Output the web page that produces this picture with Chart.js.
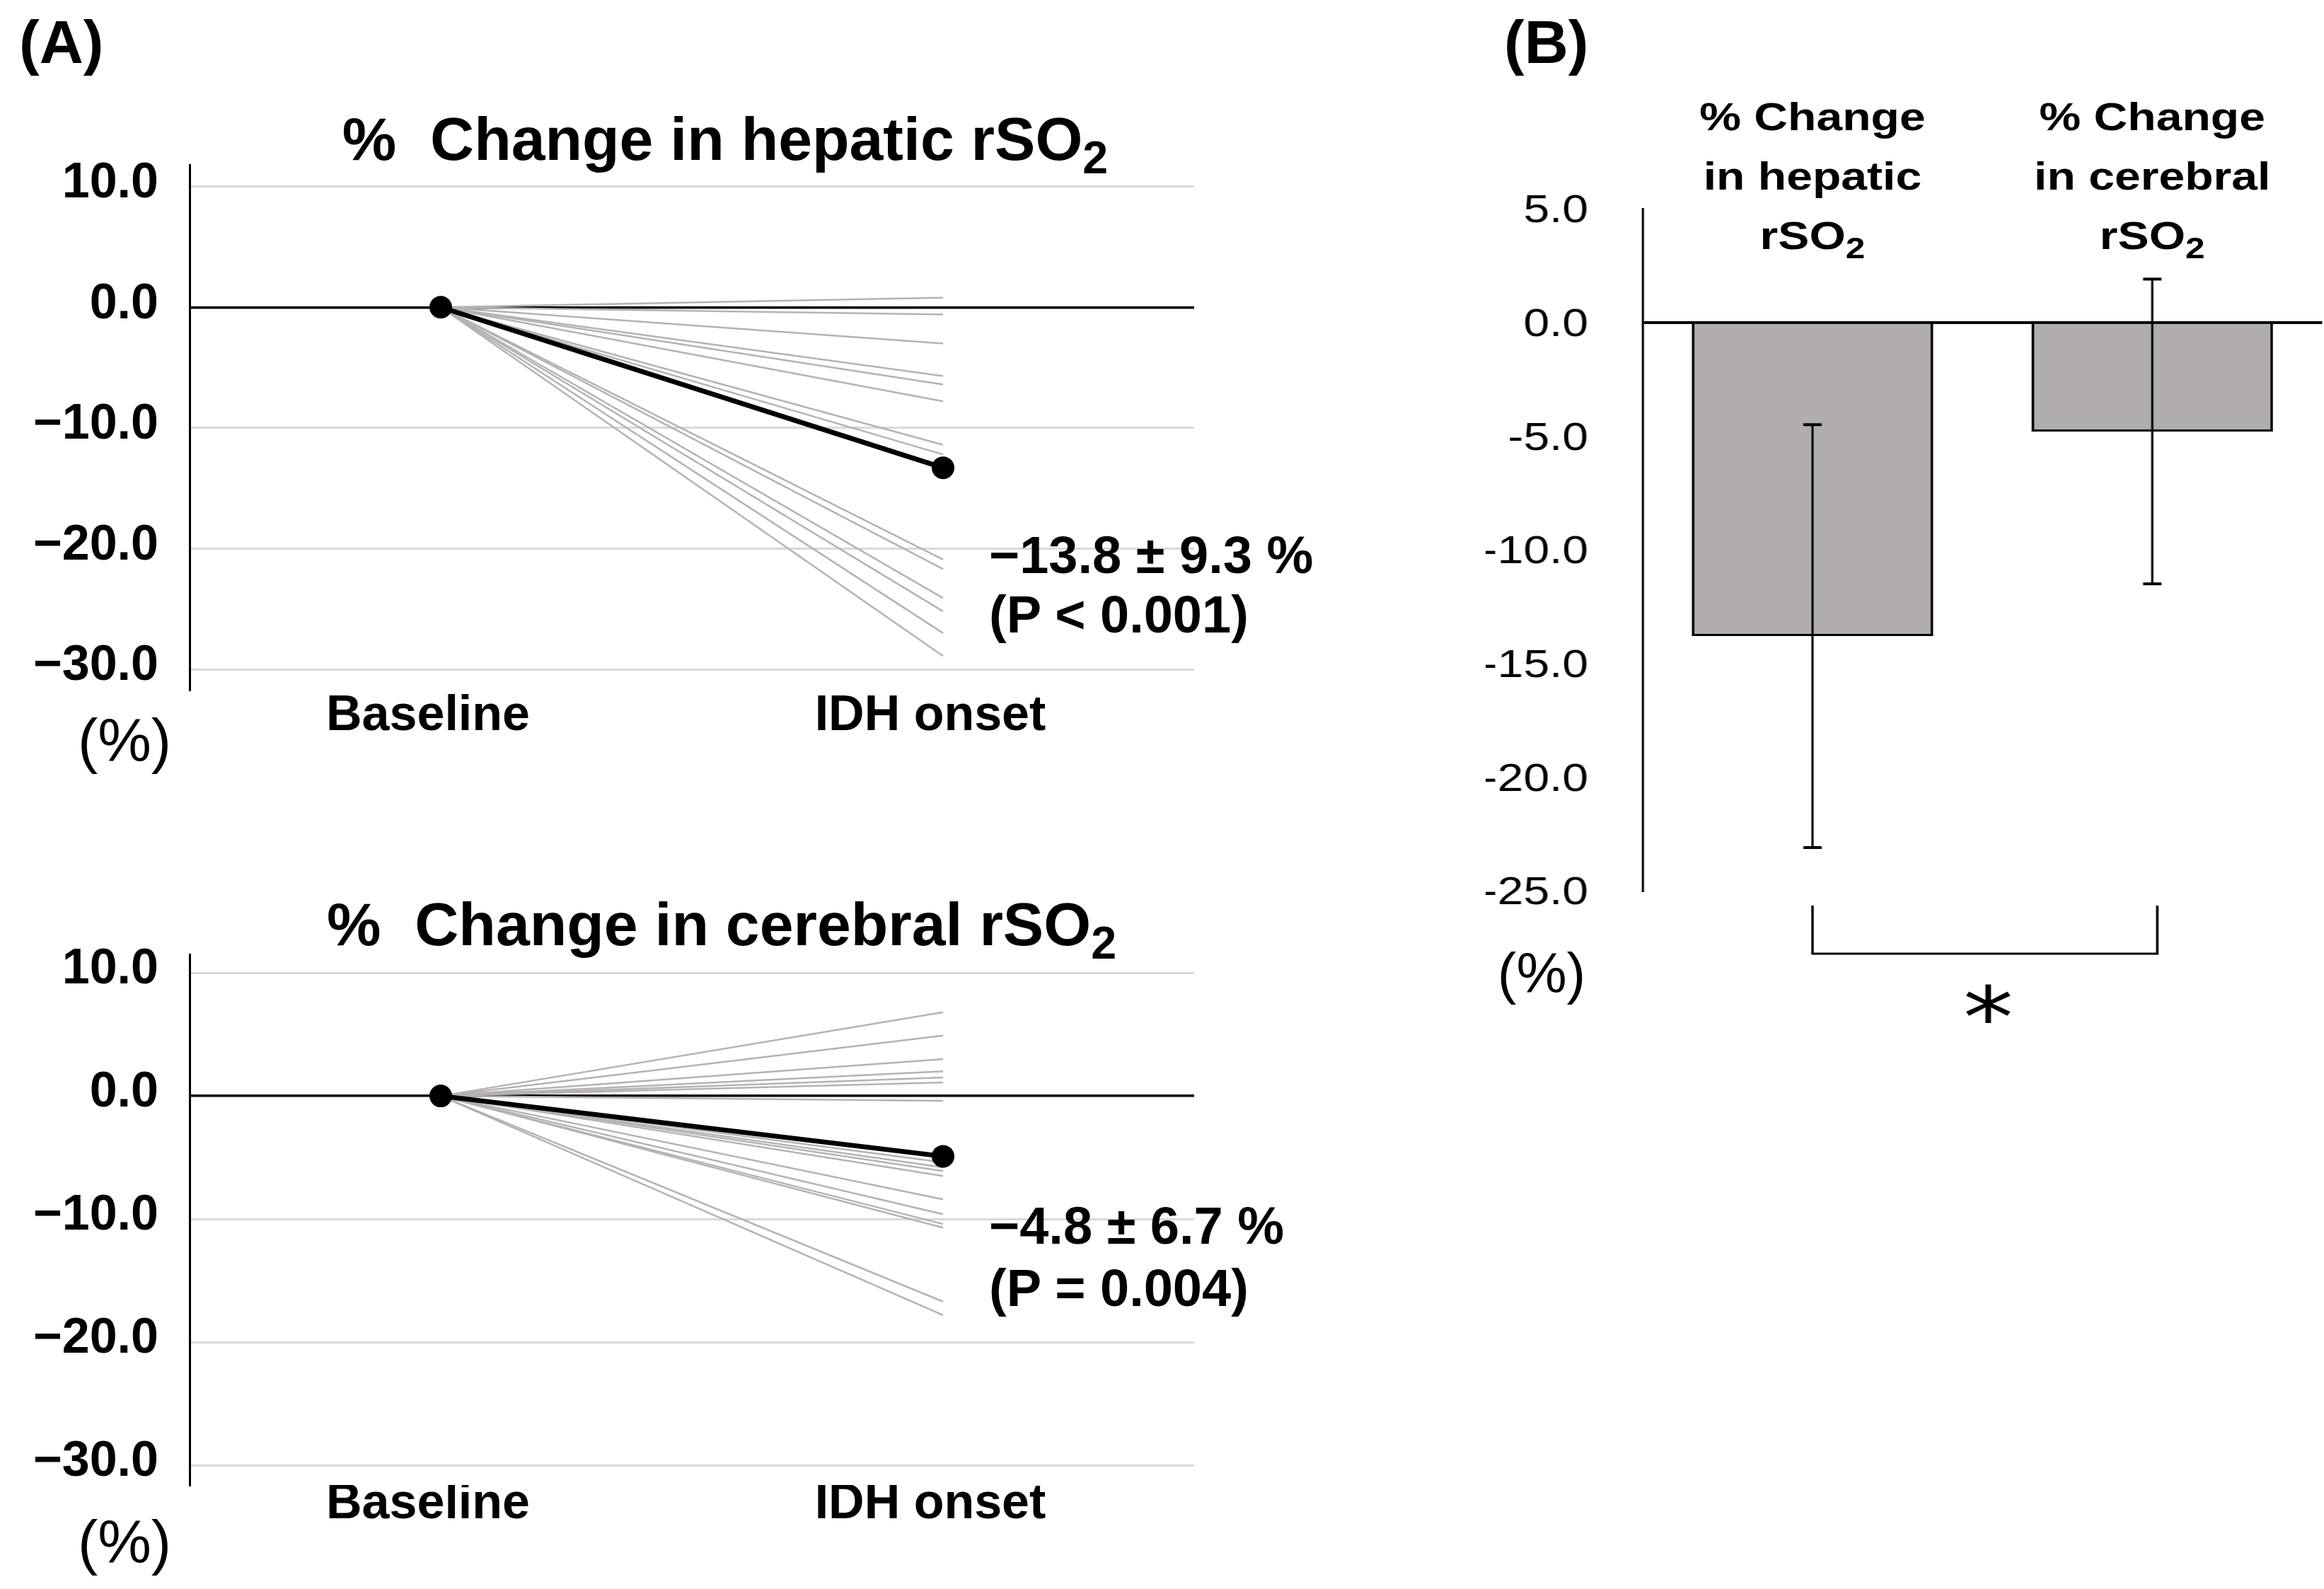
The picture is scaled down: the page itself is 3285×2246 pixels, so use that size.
<!DOCTYPE html>
<html>
<head>
<meta charset="utf-8">
<script src="https://cdn.jsdelivr.net/npm/chart.js@4.4.0/dist/chart.umd.min.js"></script>
<style>
html, body { margin: 0; padding: 0; background: #fff; }
body { width: 3285px; height: 2246px; position: relative; overflow: hidden;
       font-family: "Liberation Sans", Arial, sans-serif; color: #000; }
.txt { position: absolute; white-space: pre; line-height: 1; }
.b { font-weight: bold; }
.sub { font-size: 0.75em; vertical-align: -0.3em; line-height: 0; }
.hdr { position: absolute; width: 500px; text-align: center; font-weight: bold;
       font-size: 56px; line-height: 84px; white-space: nowrap; }
</style>
</head>
<body>

<div class="txt b" style="left:27px;top:16px;font-size:86px">(A)</div>
<div class="txt b" style="left:2126px;top:16px;font-size:86px">(B)</div>

<div class="txt b" style="left:325px;top:153px;width:1400px;text-align:center;font-size:86px">%  Change in hepatic rSO<span class="sub">2</span></div>
<div class="txt b" style="left:320px;top:1263px;width:1400px;text-align:center;font-size:86px">%  Change in cerebral rSO<span class="sub">2</span></div>

<div style="position:absolute;left:0;top:0"><canvas id="hep" width="1720" height="1150"></canvas></div>
<div style="position:absolute;left:0;top:1150px"><canvas id="cer" width="1720" height="1096"></canvas></div>

<div class="txt b" style="left:1398px;top:748px;font-size:74px">−13.8 ± 9.3 %</div>
<div class="txt b" style="left:1398px;top:832px;font-size:74px">(P &lt; 0.001)</div>
<div class="txt b" style="left:1398px;top:1696px;font-size:74px">−4.8 ± 6.7 %</div>
<div class="txt b" style="left:1398px;top:1784px;font-size:74px">(P = 0.004)</div>

<div class="txt" style="left:76px;top:1004px;width:200px;text-align:center;font-size:85px">(%)</div>
<div class="txt" style="left:76px;top:2137px;width:200px;text-align:center;font-size:85px">(%)</div>
<div class="txt" style="left:2079px;top:1336px;width:200px;text-align:center;font-size:80px">(%)</div>

<div id="panelB" style="position:absolute;left:2100px;top:0;width:1004px;height:1500px;transform:scaleX(1.18);transform-origin:0 0">
  <canvas id="bar" width="1004" height="1500"></canvas>
  <div class="hdr" id="hdr0" style="top:123px">% Change<br>in hepatic<br>rSO<span class="sub">2</span></div>
  <div class="hdr" id="hdr1" style="top:123px">% Change<br>in cerebral<br>rSO<span class="sub">2</span></div>
</div>

<script>
// time points on the x axis of panel A
const timePoints = ['Baseline', 'IDH onset'];
const yTicksA = [10, 0, -10, -20, -30];

// % change at IDH onset, one value per patient (baseline is 0)
const hepaticEnd = [0.8, -0.6, -3.0, -5.7, -6.4, -7.8, -11.4, -12.2, -20.9, -21.7, -24.1, -25.2, -27.0, -28.9];
const hepaticMean = -13.3;
const cerebralEnd = [6.8, 4.9, 3.0, 2.0, 1.5, 1.1, -0.4, -5.4, -5.8, -6.1, -6.5, -8.4, -9.6, -10.4, -10.7, -16.7, -17.8];
const cerebralMean = -4.9;

// panel B
const barCats = ['hepatic', 'cerebral'];
const barMeans = [-13.8, -4.8];
const barSD = [9.3, 6.7];

Chart.defaults.font.family = '"Liberation Sans", Arial, sans-serif';
Chart.defaults.color = '#000';

function fmtA(v) {
    return (v < 0 ? '−' : '') + Math.abs(v).toFixed(1);
}

function lineChart(id, ends, mean, yMin, yMax, padTop, xHeight, xPad) {
    const datasets = [{
        data: [0, mean],
        borderColor: '#000',
        borderWidth: 7,
        pointRadius: 16,
        pointBackgroundColor: '#000',
        pointBorderWidth: 0
    }];
    ends.forEach(v => datasets.push({
        data: [0, v],
        borderColor: '#B6B2B2',
        borderWidth: 2.5,
        pointRadius: 0
    }));

    new Chart(document.getElementById(id), {
        type: 'line',
        data: { labels: timePoints, datasets: datasets },
        options: {
            responsive: false,
            devicePixelRatio: 1,
            animation: false,
            events: [],
            layout: { padding: { top: padTop, right: 32, bottom: 0, left: 0 } },
            scales: {
                x: {
                    offset: true,
                    afterFit: ax => { ax.height = xHeight; },
                    grid: { display: false, drawTicks: false },
                    border: { display: false },
                    ticks: {
                        padding: xPad,
                        labelOffset: -18,
                        maxRotation: 0,
                        autoSkip: false,
                        font: { size: 70, weight: 'bold' }
                    }
                },
                y: {
                    min: yMin,
                    max: yMax,
                    afterBuildTicks: ax => { ax.ticks = yTicksA.map(v => ({ value: v })); },
                    afterFit: ax => { ax.width = 268; },
                    grid: {
                        drawTicks: false,
                        color: c => (c.tick && c.tick.value === 0) ? '#000' : '#D9D9D9',
                        lineWidth: c => (c.tick && c.tick.value === 0) ? 3.5 : 3
                    },
                    border: { display: true, color: '#000', width: 3 },
                    ticks: {
                        padding: 44,
                        labelOffset: -4,
                        font: { size: 70, weight: 'bold' },
                        callback: v => fmtA(v)
                    }
                }
            },
            plugins: { legend: { display: false }, tooltip: { enabled: false } }
        }
    });
}

lineChart('hep', hepaticEnd, hepaticMean, -31.7, 11.8, 233, 175, -4);
lineChart('cer', cerebralEnd, cerebralMean, -31.6, 11.5, 199, 147, -14);

// error bars, significance bracket and header placement for panel B
const barExtras = {
    id: 'barExtras',
    afterDatasetsDraw(chart) {
        const ctx = chart.ctx;
        const y = chart.scales.y;
        const bars = chart.getDatasetMeta(0).data;
        ctx.save();
        ctx.strokeStyle = '#000';
        bars.forEach((bar, i) => {
            const hi = y.getPixelForValue(barMeans[i] + barSD[i]);
            const lo = y.getPixelForValue(barMeans[i] - barSD[i]);
            ctx.lineWidth = 2.6;
            ctx.beginPath();
            ctx.moveTo(bar.x, hi);
            ctx.lineTo(bar.x, lo);
            ctx.stroke();
            ctx.lineWidth = 4;
            ctx.beginPath();
            ctx.moveTo(bar.x - 11, hi); ctx.lineTo(bar.x + 11, hi);
            ctx.moveTo(bar.x - 11, lo); ctx.lineTo(bar.x + 11, lo);
            ctx.stroke();
        });

        // bracket below the axis
        const x0 = bars[0].x, x1 = bars[1].x + 6;
        ctx.lineWidth = 3;
        ctx.beginPath();
        ctx.moveTo(x0, 1280);
        ctx.lineTo(x0, 1348);
        ctx.lineTo(x1, 1348);
        ctx.lineTo(x1, 1280);
        ctx.stroke();

        ctx.fillStyle = '#000';
        ctx.font = '120px "DejaVu Sans"';
        ctx.textAlign = 'center';
        ctx.textBaseline = 'alphabetic';
        ctx.fillText('*', (x0 + x1) / 2 + 4, 1480);
        ctx.restore();

        bars.forEach((bar, i) => {
            const el = document.getElementById('hdr' + i);
            if (el) el.style.left = (bar.x - 250) + 'px';
        });
    }
};

new Chart(document.getElementById('bar'), {
    type: 'bar',
    data: {
        labels: barCats,
        datasets: [{
            data: barMeans,
            backgroundColor: '#B0ADAC',
            borderColor: '#000',
            borderWidth: 3,
            barPercentage: 0.71,
            categoryPercentage: 1
        }]
    },
    options: {
        responsive: false,
        devicePixelRatio: 1,
        animation: false,
        events: [],
        layout: { padding: { top: 295, right: 2, bottom: 241, left: 0 } },
        scales: {
            x: { display: false, offset: true },
            y: {
                min: -25,
                max: 5,
                afterFit: ax => { ax.width = 188; },
                grid: {
                    drawTicks: false,
                    color: c => (c.tick && c.tick.value === 0) ? '#000' : 'rgba(0,0,0,0)',
                    lineWidth: 4
                },
                border: { display: true, color: '#000', width: 2.6 },
                ticks: {
                    stepSize: 5,
                    padding: 65,
                    labelOffset: 4,
                    font: { size: 56 },
                    callback: v => v.toFixed(1)
                }
            }
        },
        plugins: { legend: { display: false }, tooltip: { enabled: false } }
    },
    plugins: [barExtras]
});
</script>
</body>
</html>
